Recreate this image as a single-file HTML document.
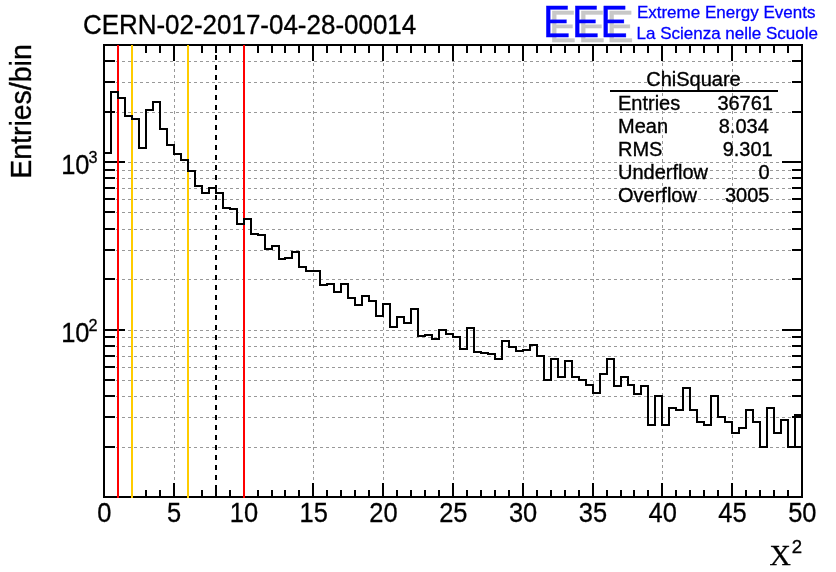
<!DOCTYPE html>
<html><head><meta charset="utf-8"><title>CERN-02-2017-04-28-00014</title>
<style>
html,body{margin:0;padding:0;background:#fff;}
body{width:836px;height:572px;overflow:hidden;}
svg{display:block;}
text{font-family:"Liberation Sans",Arial,Helvetica,sans-serif;fill:#000;}
.ser{font-family:"Liberation Serif","Times New Roman",serif;}
.lab{font-size:26px;text-anchor:middle;}
.st{font-size:20px;}
.blue{fill:#0000ff;}
</style></head><body>
<svg width="836" height="572" viewBox="0 0 836 572">
<rect x="0" y="0" width="836" height="572" fill="#fff"/>

<g stroke="#999" stroke-width="1" stroke-dasharray="3,3" shape-rendering="crispEdges" fill="none">
<line x1="174.5" y1="45" x2="174.5" y2="497"/>
<line x1="244.5" y1="45" x2="244.5" y2="497"/>
<line x1="313.5" y1="45" x2="313.5" y2="497"/>
<line x1="383.5" y1="45" x2="383.5" y2="497"/>
<line x1="453.5" y1="45" x2="453.5" y2="497"/>
<line x1="523.5" y1="45" x2="523.5" y2="497"/>
<line x1="593.5" y1="45" x2="593.5" y2="497"/>
<line x1="662.5" y1="45" x2="662.5" y2="497"/>
<line x1="732.5" y1="45" x2="732.5" y2="497"/>
<line x1="104" y1="447.5" x2="802" y2="447.5"/>
<line x1="104" y1="417.5" x2="802" y2="417.5"/>
<line x1="104" y1="396.5" x2="802" y2="396.5"/>
<line x1="104" y1="380.5" x2="802" y2="380.5"/>
<line x1="104" y1="367.5" x2="802" y2="367.5"/>
<line x1="104" y1="356.5" x2="802" y2="356.5"/>
<line x1="104" y1="346.5" x2="802" y2="346.5"/>
<line x1="104" y1="337.5" x2="802" y2="337.5"/>
<line x1="104" y1="330.5" x2="802" y2="330.5"/>
<line x1="104" y1="279.5" x2="802" y2="279.5"/>
<line x1="104" y1="250.5" x2="802" y2="250.5"/>
<line x1="104" y1="229.5" x2="802" y2="229.5"/>
<line x1="104" y1="212.5" x2="802" y2="212.5"/>
<line x1="104" y1="199.5" x2="802" y2="199.5"/>
<line x1="104" y1="188.5" x2="802" y2="188.5"/>
<line x1="104" y1="178.5" x2="802" y2="178.5"/>
<line x1="104" y1="170.5" x2="802" y2="170.5"/>
<line x1="104" y1="162.5" x2="802" y2="162.5"/>
<line x1="104" y1="112.5" x2="802" y2="112.5"/>
<line x1="104" y1="82.5" x2="802" y2="82.5"/>
<line x1="104" y1="61.5" x2="802" y2="61.5"/>
</g>
<g stroke="#000" stroke-width="2" shape-rendering="crispEdges" fill="none">
<rect x="104" y="45" width="698" height="452"/>
<line x1="104" y1="497" x2="104" y2="483"/>
<line x1="104" y1="45" x2="104" y2="61"/>
<line x1="118" y1="497" x2="118" y2="490"/>
<line x1="118" y1="45" x2="118" y2="53"/>
<line x1="132" y1="497" x2="132" y2="490"/>
<line x1="132" y1="45" x2="132" y2="53"/>
<line x1="146" y1="497" x2="146" y2="490"/>
<line x1="146" y1="45" x2="146" y2="53"/>
<line x1="160" y1="497" x2="160" y2="490"/>
<line x1="160" y1="45" x2="160" y2="53"/>
<line x1="174" y1="497" x2="174" y2="483"/>
<line x1="174" y1="45" x2="174" y2="61"/>
<line x1="188" y1="497" x2="188" y2="490"/>
<line x1="188" y1="45" x2="188" y2="53"/>
<line x1="202" y1="497" x2="202" y2="490"/>
<line x1="202" y1="45" x2="202" y2="53"/>
<line x1="216" y1="497" x2="216" y2="490"/>
<line x1="216" y1="45" x2="216" y2="53"/>
<line x1="230" y1="497" x2="230" y2="490"/>
<line x1="230" y1="45" x2="230" y2="53"/>
<line x1="244" y1="497" x2="244" y2="483"/>
<line x1="244" y1="45" x2="244" y2="61"/>
<line x1="258" y1="497" x2="258" y2="490"/>
<line x1="258" y1="45" x2="258" y2="53"/>
<line x1="272" y1="497" x2="272" y2="490"/>
<line x1="272" y1="45" x2="272" y2="53"/>
<line x1="285" y1="497" x2="285" y2="490"/>
<line x1="285" y1="45" x2="285" y2="53"/>
<line x1="299" y1="497" x2="299" y2="490"/>
<line x1="299" y1="45" x2="299" y2="53"/>
<line x1="313" y1="497" x2="313" y2="483"/>
<line x1="313" y1="45" x2="313" y2="61"/>
<line x1="327" y1="497" x2="327" y2="490"/>
<line x1="327" y1="45" x2="327" y2="53"/>
<line x1="341" y1="497" x2="341" y2="490"/>
<line x1="341" y1="45" x2="341" y2="53"/>
<line x1="355" y1="497" x2="355" y2="490"/>
<line x1="355" y1="45" x2="355" y2="53"/>
<line x1="369" y1="497" x2="369" y2="490"/>
<line x1="369" y1="45" x2="369" y2="53"/>
<line x1="383" y1="497" x2="383" y2="483"/>
<line x1="383" y1="45" x2="383" y2="61"/>
<line x1="397" y1="497" x2="397" y2="490"/>
<line x1="397" y1="45" x2="397" y2="53"/>
<line x1="411" y1="497" x2="411" y2="490"/>
<line x1="411" y1="45" x2="411" y2="53"/>
<line x1="425" y1="497" x2="425" y2="490"/>
<line x1="425" y1="45" x2="425" y2="53"/>
<line x1="439" y1="497" x2="439" y2="490"/>
<line x1="439" y1="45" x2="439" y2="53"/>
<line x1="453" y1="497" x2="453" y2="483"/>
<line x1="453" y1="45" x2="453" y2="61"/>
<line x1="467" y1="497" x2="467" y2="490"/>
<line x1="467" y1="45" x2="467" y2="53"/>
<line x1="481" y1="497" x2="481" y2="490"/>
<line x1="481" y1="45" x2="481" y2="53"/>
<line x1="495" y1="497" x2="495" y2="490"/>
<line x1="495" y1="45" x2="495" y2="53"/>
<line x1="509" y1="497" x2="509" y2="490"/>
<line x1="509" y1="45" x2="509" y2="53"/>
<line x1="523" y1="497" x2="523" y2="483"/>
<line x1="523" y1="45" x2="523" y2="61"/>
<line x1="537" y1="497" x2="537" y2="490"/>
<line x1="537" y1="45" x2="537" y2="53"/>
<line x1="551" y1="497" x2="551" y2="490"/>
<line x1="551" y1="45" x2="551" y2="53"/>
<line x1="565" y1="497" x2="565" y2="490"/>
<line x1="565" y1="45" x2="565" y2="53"/>
<line x1="579" y1="497" x2="579" y2="490"/>
<line x1="579" y1="45" x2="579" y2="53"/>
<line x1="593" y1="497" x2="593" y2="483"/>
<line x1="593" y1="45" x2="593" y2="61"/>
<line x1="607" y1="497" x2="607" y2="490"/>
<line x1="607" y1="45" x2="607" y2="53"/>
<line x1="621" y1="497" x2="621" y2="490"/>
<line x1="621" y1="45" x2="621" y2="53"/>
<line x1="634" y1="497" x2="634" y2="490"/>
<line x1="634" y1="45" x2="634" y2="53"/>
<line x1="648" y1="497" x2="648" y2="490"/>
<line x1="648" y1="45" x2="648" y2="53"/>
<line x1="662" y1="497" x2="662" y2="483"/>
<line x1="662" y1="45" x2="662" y2="61"/>
<line x1="676" y1="497" x2="676" y2="490"/>
<line x1="676" y1="45" x2="676" y2="53"/>
<line x1="690" y1="497" x2="690" y2="490"/>
<line x1="690" y1="45" x2="690" y2="53"/>
<line x1="704" y1="497" x2="704" y2="490"/>
<line x1="704" y1="45" x2="704" y2="53"/>
<line x1="718" y1="497" x2="718" y2="490"/>
<line x1="718" y1="45" x2="718" y2="53"/>
<line x1="732" y1="497" x2="732" y2="483"/>
<line x1="732" y1="45" x2="732" y2="61"/>
<line x1="746" y1="497" x2="746" y2="490"/>
<line x1="746" y1="45" x2="746" y2="53"/>
<line x1="760" y1="497" x2="760" y2="490"/>
<line x1="760" y1="45" x2="760" y2="53"/>
<line x1="774" y1="497" x2="774" y2="490"/>
<line x1="774" y1="45" x2="774" y2="53"/>
<line x1="788" y1="497" x2="788" y2="490"/>
<line x1="788" y1="45" x2="788" y2="53"/>
<line x1="802" y1="497" x2="802" y2="483"/>
<line x1="802" y1="45" x2="802" y2="61"/>
<line x1="104" y1="447" x2="115" y2="447"/>
<line x1="802" y1="447" x2="792" y2="447"/>
<line x1="104" y1="417" x2="115" y2="417"/>
<line x1="802" y1="417" x2="792" y2="417"/>
<line x1="104" y1="396" x2="115" y2="396"/>
<line x1="802" y1="396" x2="792" y2="396"/>
<line x1="104" y1="380" x2="115" y2="380"/>
<line x1="802" y1="380" x2="792" y2="380"/>
<line x1="104" y1="367" x2="115" y2="367"/>
<line x1="802" y1="367" x2="792" y2="367"/>
<line x1="104" y1="356" x2="115" y2="356"/>
<line x1="802" y1="356" x2="792" y2="356"/>
<line x1="104" y1="346" x2="115" y2="346"/>
<line x1="802" y1="346" x2="792" y2="346"/>
<line x1="104" y1="337" x2="115" y2="337"/>
<line x1="802" y1="337" x2="792" y2="337"/>
<line x1="104" y1="330" x2="125" y2="330"/>
<line x1="802" y1="330" x2="782" y2="330"/>
<line x1="104" y1="279" x2="115" y2="279"/>
<line x1="802" y1="279" x2="792" y2="279"/>
<line x1="104" y1="250" x2="115" y2="250"/>
<line x1="802" y1="250" x2="792" y2="250"/>
<line x1="104" y1="229" x2="115" y2="229"/>
<line x1="802" y1="229" x2="792" y2="229"/>
<line x1="104" y1="212" x2="115" y2="212"/>
<line x1="802" y1="212" x2="792" y2="212"/>
<line x1="104" y1="199" x2="115" y2="199"/>
<line x1="802" y1="199" x2="792" y2="199"/>
<line x1="104" y1="188" x2="115" y2="188"/>
<line x1="802" y1="188" x2="792" y2="188"/>
<line x1="104" y1="178" x2="115" y2="178"/>
<line x1="802" y1="178" x2="792" y2="178"/>
<line x1="104" y1="170" x2="115" y2="170"/>
<line x1="802" y1="170" x2="792" y2="170"/>
<line x1="104" y1="162" x2="125" y2="162"/>
<line x1="802" y1="162" x2="782" y2="162"/>
<line x1="104" y1="112" x2="115" y2="112"/>
<line x1="802" y1="112" x2="792" y2="112"/>
<line x1="104" y1="82" x2="115" y2="82"/>
<line x1="802" y1="82" x2="792" y2="82"/>
<line x1="104" y1="61" x2="115" y2="61"/>
<line x1="802" y1="61" x2="792" y2="61"/>
</g>
<line x1="118" y1="45" x2="118" y2="498" stroke="#ff0000" stroke-width="2" shape-rendering="crispEdges" />
<line x1="244" y1="45" x2="244" y2="498" stroke="#ff0000" stroke-width="2" shape-rendering="crispEdges" />
<line x1="132" y1="45" x2="132" y2="498" stroke="#ffcc00" stroke-width="2" shape-rendering="crispEdges" />
<line x1="188" y1="45" x2="188" y2="498" stroke="#ffcc00" stroke-width="2" shape-rendering="crispEdges" />
<line x1="216" y1="45" x2="216" y2="497" stroke="#000" stroke-width="2" stroke-dasharray="5,5" shape-rendering="crispEdges"/>
<path d="M104,497 L104,153 L111,153 L111,92 L118,92 L118,98 L125,98 L125,116 L132,116 L132,119 L139,119 L139,148 L146,148 L146,110 L153,110 L153,102 L160,102 L160,129 L167,129 L167,145 L174,145 L174,154 L181,154 L181,160 L188,160 L188,171 L195,171 L195,186 L202,186 L202,193 L209,193 L209,188 L216,188 L216,193 L223,193 L223,208 L230,208 L230,209 L237,209 L237,224 L244,224 L244,219 L251,219 L251,234 L258,234 L258,235 L265,235 L265,249 L272,249 L272,246 L279,246 L279,259 L285,259 L285,258 L292,258 L292,252 L299,252 L299,267 L306,267 L306,271 L313,271 L313,271 L320,271 L320,285 L327,285 L327,284 L334,284 L334,292 L341,292 L341,284 L348,284 L348,298 L355,298 L355,305 L362,305 L362,296 L369,296 L369,301 L376,301 L376,316 L383,316 L383,304 L390,304 L390,327 L397,327 L397,317 L404,317 L404,323 L411,323 L411,309 L418,309 L418,336 L425,336 L425,335 L432,335 L432,339 L439,339 L439,330 L446,330 L446,334 L453,334 L453,337 L460,337 L460,349 L467,349 L467,328 L474,328 L474,352 L481,352 L481,353 L488,353 L488,354 L495,354 L495,359 L502,359 L502,341 L509,341 L509,347 L516,347 L516,351 L523,351 L523,350 L530,350 L530,345 L537,345 L537,356 L544,356 L544,380 L551,380 L551,359 L558,359 L558,377 L565,377 L565,361 L572,361 L572,377 L579,377 L579,380 L586,380 L586,385 L593,385 L593,393 L600,393 L600,374 L607,374 L607,359 L614,359 L614,386 L621,386 L621,377 L628,377 L628,385 L634,385 L634,394 L641,394 L641,386 L648,386 L648,425 L655,425 L655,396 L662,396 L662,425 L669,425 L669,408 L676,408 L676,410 L683,410 L683,388 L690,388 L690,410 L697,410 L697,422 L704,422 L704,425 L711,425 L711,396 L718,396 L718,417 L725,417 L725,422 L732,422 L732,433 L739,433 L739,428 L746,428 L746,410 L753,410 L753,422 L760,422 L760,447 L767,447 L767,408 L774,408 L774,433 L781,433 L781,420 L788,420 L788,447 L795,447 L795,415 L802,415 L802,497" fill="none" stroke="#000" stroke-width="2" stroke-linejoin="miter" stroke-linecap="square" shape-rendering="crispEdges"/>
<text transform="translate(104.3,521.9) scale(0.94,1)" font-size="27.1" text-anchor="middle" stroke="#000" stroke-width="0.3">0</text>
<text transform="translate(174.1,521.9) scale(0.94,1)" font-size="27.1" text-anchor="middle" stroke="#000" stroke-width="0.3">5</text>
<text transform="translate(243.9,521.9) scale(0.94,1)" font-size="27.1" text-anchor="middle" stroke="#000" stroke-width="0.3">10</text>
<text transform="translate(313.7,521.9) scale(0.94,1)" font-size="27.1" text-anchor="middle" stroke="#000" stroke-width="0.3">15</text>
<text transform="translate(383.5,521.9) scale(0.94,1)" font-size="27.1" text-anchor="middle" stroke="#000" stroke-width="0.3">20</text>
<text transform="translate(453.3,521.9) scale(0.94,1)" font-size="27.1" text-anchor="middle" stroke="#000" stroke-width="0.3">25</text>
<text transform="translate(523.1,521.9) scale(0.94,1)" font-size="27.1" text-anchor="middle" stroke="#000" stroke-width="0.3">30</text>
<text transform="translate(592.9,521.9) scale(0.94,1)" font-size="27.1" text-anchor="middle" stroke="#000" stroke-width="0.3">35</text>
<text transform="translate(662.7,521.9) scale(0.94,1)" font-size="27.1" text-anchor="middle" stroke="#000" stroke-width="0.3">40</text>
<text transform="translate(732.5,521.9) scale(0.94,1)" font-size="27.1" text-anchor="middle" stroke="#000" stroke-width="0.3">45</text>
<text transform="translate(802.3,521.9) scale(0.94,1)" font-size="27.1" text-anchor="middle" stroke="#000" stroke-width="0.3">50</text>
<text transform="translate(61.2,173.9) scale(0.94,1)" font-size="27.1" text-anchor="start" stroke="#000" stroke-width="0.3">10</text>
<text transform="translate(88.4,162.6) scale(1.0,1)" font-size="16.2" text-anchor="start" stroke="#000" stroke-width="0.3">3</text>
<text transform="translate(61.2,341.9) scale(0.94,1)" font-size="27.1" text-anchor="start" stroke="#000" stroke-width="0.3">10</text>
<text transform="translate(88.4,330.6) scale(1.0,1)" font-size="16.2" text-anchor="start" stroke="#000" stroke-width="0.3">2</text>
<text transform="translate(82.9,34.4) scale(0.921,1)" font-size="28.2" text-anchor="start" stroke="#000" stroke-width="0.35">CERN-02-2017-04-28-00014</text>
<text transform="translate(30.8,44.2) rotate(-90) scale(0.966,1)" text-anchor="end" font-size="29.5" stroke="#000" stroke-width="0.35">Entries/bin</text>
<text transform="translate(769.5,565) scale(1.0,1)" font-size="29.5" text-anchor="start" class="ser" stroke="#000" stroke-width="0.3">X</text>
<text transform="translate(791.8,552.8) scale(1.0,1)" font-size="18.6" text-anchor="start" stroke="#000" stroke-width="0.35">2</text>
<text transform="translate(549.1,41.9) scale(0.93,1)" font-size="43.8" style="fill:#c8c8c8" stroke="#c8c8c8" stroke-width="0.4">E</text>
<text transform="translate(578.1,41.9) scale(0.93,1)" font-size="43.8" style="fill:#c8c8c8" stroke="#c8c8c8" stroke-width="0.4">E</text>
<text transform="translate(606.4,41.9) scale(0.93,1)" font-size="43.8" style="fill:#c8c8c8" stroke="#c8c8c8" stroke-width="0.4">E</text>
<text transform="translate(543.1,36.9) scale(0.93,1)" font-size="43.8" style="fill:#0000ff" stroke="#0000ff" stroke-width="0.4">E</text>
<text transform="translate(572.1,36.9) scale(0.93,1)" font-size="43.8" style="fill:#0000ff" stroke="#0000ff" stroke-width="0.4">E</text>
<text transform="translate(600.4,36.9) scale(0.93,1)" font-size="43.8" style="fill:#0000ff" stroke="#0000ff" stroke-width="0.4">E</text>
<text x="636.9" y="18" font-size="17" class="blue" stroke="#0000ff" stroke-width="0.3">Extreme Energy Events</text>
<text x="636.5" y="39" font-size="17" class="blue" stroke="#0000ff" stroke-width="0.3">La Scienza nelle Scuole</text>
<text class="st" x="693.5" y="86" text-anchor="middle" stroke="#000" stroke-width="0.35">ChiSquare</text>
<line x1="610" y1="91" x2="778" y2="91" stroke="#000" stroke-width="2" shape-rendering="crispEdges"/>
<text class="st" x="618" y="109.5" stroke="#000" stroke-width="0.35">Entries</text><text class="st" x="773.0" y="109.5" text-anchor="end" stroke="#000" stroke-width="0.35">36761</text>
<text class="st" x="618" y="132.5" stroke="#000" stroke-width="0.35">Mean</text><text class="st" x="768.8" y="132.5" text-anchor="end" stroke="#000" stroke-width="0.35">8.034</text>
<text class="st" x="618" y="155.5" stroke="#000" stroke-width="0.35">RMS</text><text class="st" x="772.7" y="155.5" text-anchor="end" stroke="#000" stroke-width="0.35">9.301</text>
<text class="st" x="618" y="178.6" stroke="#000" stroke-width="0.35">Underflow</text><text class="st" x="769.5" y="178.6" text-anchor="end" stroke="#000" stroke-width="0.35">0</text>
<text class="st" x="618" y="201.6" stroke="#000" stroke-width="0.35">Overflow</text><text class="st" x="769.5" y="201.6" text-anchor="end" stroke="#000" stroke-width="0.35">3005</text>
</svg></body></html>
